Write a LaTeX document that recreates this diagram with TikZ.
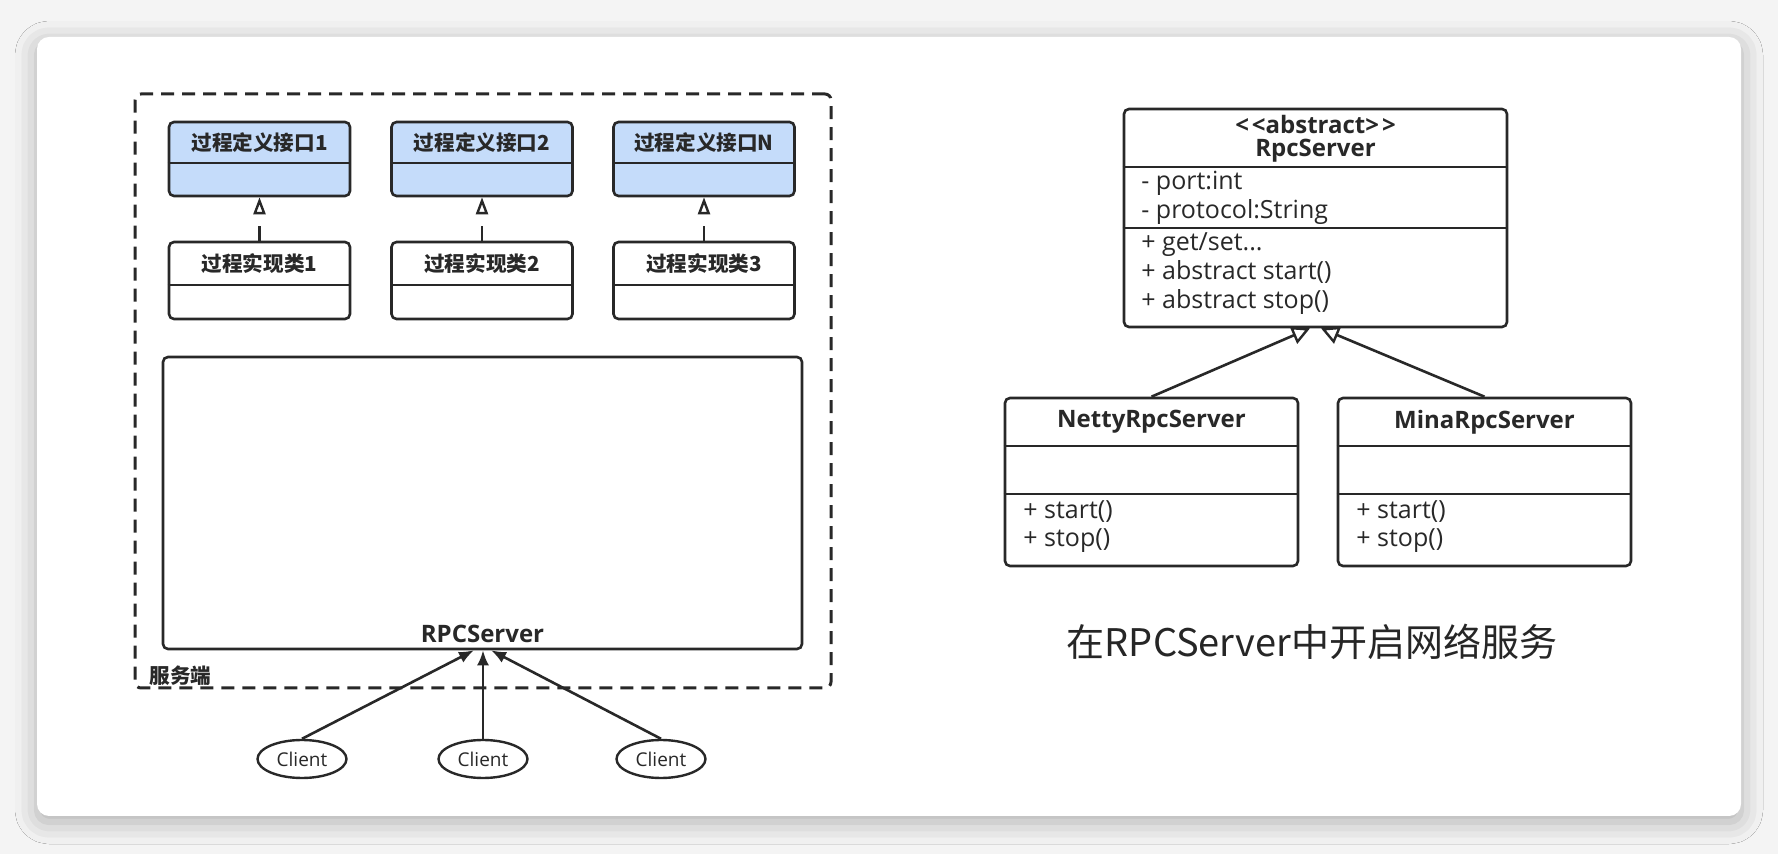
\documentclass[tikz,border=0pt]{standalone}
\usepackage{fontspec}
\setmainfont{Open Sans}
\newfontfamily\cjk{Noto Sans CJK SC}
\usetikzlibrary{arrows.meta,shapes.geometric,shadows.blur}
\definecolor{ifblue}{RGB}{197,220,250}
\definecolor{ink}{RGB}{40,40,40}
\definecolor{bggray}{RGB}{244,244,244}
\begin{document}
\begin{tikzpicture}[x=0.5pt,y=-0.5pt,
  umlbox/.style={draw=ink,line width=1.3pt,rounded corners=2.5pt,inner sep=0pt,fill=white},
  ifbox/.style={umlbox,fill=ifblue,minimum width=90.5pt,minimum height=37pt},
  implbox/.style={umlbox,minimum width=90.5pt,minimum height=38.5pt},
  divline/.style={draw=ink,line width=1.3pt},
  cname/.style={font=\bfseries\fontsize{12}{14}\selectfont,text=ink,inner sep=0pt},
  member/.style={font=\fontsize{12.5}{14}\selectfont,text=ink,anchor=west,inner sep=0pt,text height=9pt,text depth=3pt},
  cjkb/.style={font=\cjk\bfseries\fontsize{10.3}{12}\selectfont,text=ink,inner sep=0pt},
  realize/.style={draw=ink,line width=1.3pt,dash pattern=on 7.5pt off 20pt,-{Triangle[open,length=8.5pt,width=6pt,line width=1.2pt]}},
  inherit/.style={draw=ink,line width=1.3pt,-{Triangle[open,length=9pt,width=9pt,line width=1.2pt]}},
  call/.style={draw=ink,line width=1.3pt,-{Latex[length=7.5pt,width=6pt]}},
  client/.style={ellipse,draw=ink,line width=1.2pt,fill=white,minimum width=44.5pt,minimum height=19pt,inner sep=0pt,font=\fontsize{9.5}{11}\selectfont,text=ink},
  card/.style={fill=white,rounded corners=6pt,minimum width=852pt,minimum height=389.5pt,inner sep=0pt,
    blur shadow={shadow xshift=0pt,shadow yshift=-3pt,shadow blur radius=11pt,shadow opacity=28}}
]
\useasboundingbox (0,0) rectangle (1778,854);
\fill[bggray] (0,0) rectangle (1778,854);
\node[card] (card) at (889,426.5) {};

% ---- left: server side container
\node[draw=ink,line width=1.5pt,dash pattern=on 6.5pt off 4pt,rounded corners=3pt,minimum width=348pt,minimum height=297pt,inner sep=0pt] (srv) at (483,391) {};
\node[cjkb,anchor=west] (srvlabel) at (149,676) {服务端};

% interfaces
\node[ifbox] (i1) at (259.5,159) {};
\node[ifbox] (i2) at (482,159) {};
\node[ifbox] (i3) at (704,159) {};
\foreach \n in {i1,i2,i3} {\draw[divline] (\n.west |- 0,163) -- (\n.east |- 0,163);}
\node[cjkb] (i1t) at (259.5,143) {过程定义接口1};
\node[cjkb] (i2t) at (482,143) {过程定义接口2};
\node[cjkb] (i3t) at (704,143) {过程定义接口N};

% implementations
\node[implbox] (c1) at (259.5,280.5) {};
\node[implbox] (c2) at (482,280.5) {};
\node[implbox] (c3) at (704,280.5) {};
\foreach \n in {c1,c2,c3} {\draw[divline] (\n.west |- 0,285) -- (\n.east |- 0,285);}
\node[cjkb] (c1t) at (259.5,264) {过程实现类1};
\node[cjkb] (c2t) at (482,264) {过程实现类2};
\node[cjkb] (c3t) at (704,264) {过程实现类3};

\draw[realize] (c1.north) -- (i1.south);
\draw[realize] (c2.north) -- (i2.south);
\draw[realize] (c3.north) -- (i3.south);

% RPCServer box
\node[umlbox,minimum width=319.5pt,minimum height=146pt] (rpc) at (482.5,503) {};
\node[cname] (rpct) at (482.5,634) {RPCServer};

% clients
\node[client] (k1) at (302,759) {Client};
\node[client] (k2) at (483,759) {Client};
\node[client] (k3) at (661,759) {Client};
\draw[call] (k1.north) -- (rpc.south -| 474,0);
\draw[call] (k2.north) -- (rpc.south -| 483,0);
\draw[call] (k3.north) -- (rpc.south -| 491,0);

% ---- right: class hierarchy
\node[umlbox,minimum width=191.5pt,minimum height=109pt] (base) at (1315.5,218) {};
\draw[divline] (base.west |- 0,167) -- (base.east |- 0,167);
\draw[divline] (base.west |- 0,228) -- (base.east |- 0,228);
\node[cname] (bst) at (1315.5,125) {<\kern1.5pt<abstract>\kern1.5pt>};
\node[cname] (bname) at (1315.5,151) {RpcServer};
\node[member] (ba1) at (1141,184) {- port:int};
\node[member] (ba2) at (1141,213) {- protocol:String};
\node[member] (bm1) at (1141,245) {+ get/set...};
\node[member] (bm2) at (1141,274) {+ abstract start()};
\node[member] (bm3) at (1141,303) {+ abstract stop()};

\node[umlbox,minimum width=146.5pt,minimum height=84pt] (netty) at (1151.5,482) {};
\node[umlbox,minimum width=146.5pt,minimum height=84pt] (mina) at (1484.5,482) {};
\foreach \n in {netty,mina} {
  \draw[divline] (\n.west |- 0,446) -- (\n.east |- 0,446);
  \draw[divline] (\n.west |- 0,494) -- (\n.east |- 0,494);
}
\node[cname] (nt) at (1151.5,422) {NettyRpcServer};
\node[member] (nm1) at (1023,513) {+ start()};
\node[member] (nm2) at (1023,541) {+ stop()};
\node[cname] (mt) at (1484.5,422) {MinaRpcServer};
\node[member] (mm1) at (1356,513) {+ start()};
\node[member] (mm2) at (1356,541) {+ stop()};

\draw[inherit] (netty.north) -- (base.south -| 1310,0);
\draw[inherit] (mina.north) -- (base.south -| 1321,0);

\node[font=\cjk\fontsize{19}{22}\selectfont,text=black!85,inner sep=0pt] (caption) at (1312,642) {在RPCServer中开启网络服务};
\end{tikzpicture}
\end{document}
